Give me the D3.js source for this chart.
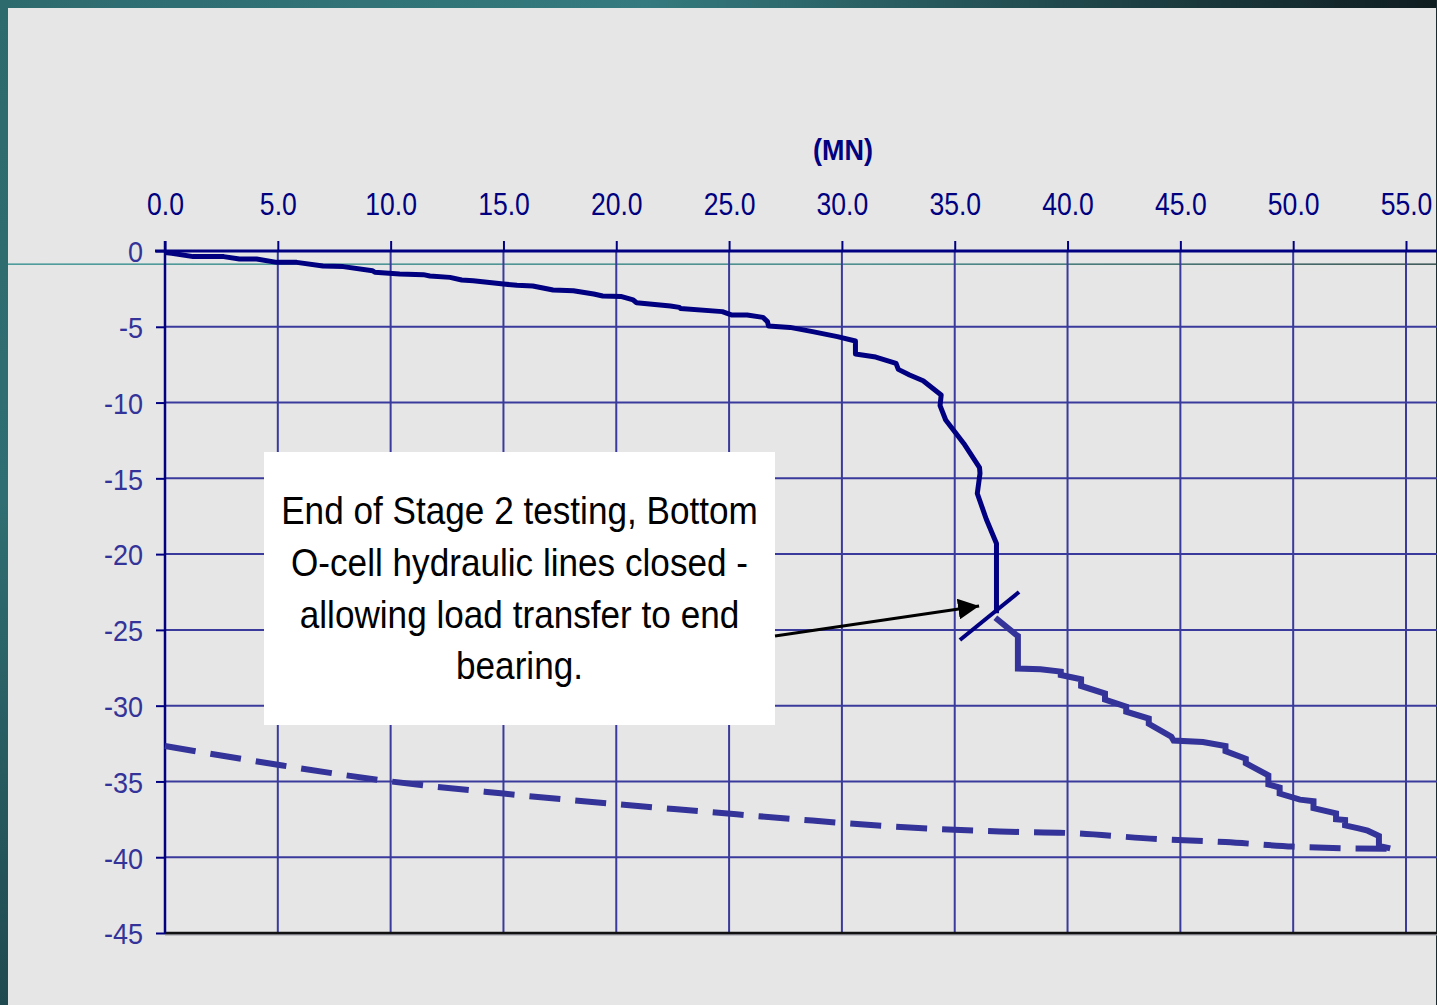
<!DOCTYPE html>
<html>
<head>
<meta charset="utf-8">
<script src="https://cdn.jsdelivr.net/npm/d3@7"></script>
<style>
  html, body { margin: 0; padding: 0; background: #e6e6e6; overflow: hidden; }
  svg { display: block; }
  .lbl { font-family: "Liberation Sans", Arial, sans-serif; }
</style>
</head>
<body>
<svg id="chart" width="1437" height="1005"></svg>
<script>
// Load (MN) vs. displacement readings, upper O-cell stage
const loadUpper = [0, 0.3, 1.25, 2.6, 3.3, 4.06, 4.95, 5.84, 7.0, 7.9, 9.2, 9.3, 10.4, 11.45, 11.74, 12.63, 13.15, 13.66,
  15.0, 15.6, 16.3, 17.2, 18.1, 19.0, 19.4, 20.2, 20.75, 20.9, 22.4, 22.8, 22.85, 24.7, 25.1, 25.8, 26.5, 26.7, 26.75,
  27.7, 28.7, 29.8, 30.6, 30.6, 31.5, 32.4, 32.5, 33.0, 33.6, 34.4, 34.35, 34.6, 35.4, 36.1, 36.12, 36.0, 36.4, 36.85, 36.85];
const dispUpper = [-0.1, -0.15, -0.37, -0.37, -0.53, -0.53, -0.75, -0.75, -0.99, -1.03, -1.3, -1.4, -1.52, -1.56, -1.65, -1.74, -1.91, -1.96,
  -2.18, -2.26, -2.31, -2.57, -2.62, -2.84, -2.97, -3.0, -3.23, -3.41, -3.63, -3.72, -3.8, -4.0, -4.22, -4.22, -4.38, -4.66, -4.95,
  -5.04, -5.32, -5.65, -5.94, -6.8, -7.0, -7.41, -7.81, -8.18, -8.56, -9.5, -10.2, -11.15, -12.7, -14.3, -14.67, -16.0, -17.7, -19.3, -23.9];

// Readings after the bottom O-cell lines were closed
const loadLower = [36.8, 37.7, 37.8, 37.8, 38.8, 39.7, 39.7, 40.6, 40.6, 41.66, 41.66, 42.6, 42.6, 43.6, 43.6, 44.6, 44.7,
  46.0, 47.0, 47.0, 47.9, 47.9, 48.9, 48.9, 49.4, 49.4, 50.3, 50.9, 50.9, 51.9, 51.9, 52.3, 52.3, 52.9, 53.3, 53.8, 53.8, 54.3];
const dispLower = [-24.2, -25.3, -25.4, -27.55, -27.6, -27.75, -27.98, -28.26, -28.7, -29.2, -29.6, -30.06, -30.4, -30.85, -31.2, -32.05, -32.3,
  -32.4, -32.66, -33.0, -33.5, -33.8, -34.6, -35.2, -35.4, -35.8, -36.2, -36.3, -36.76, -37.1, -37.5, -37.55, -37.9, -38.1, -38.25, -38.6, -39.25, -39.42];

// Reference (dashed) curve
const loadRef = [0, 5, 10, 15, 20, 24, 28, 32, 37, 40, 44, 47, 50, 54.3];
const dispRef = [-32.66, -33.9, -35.0, -35.8, -36.5, -37.0, -37.5, -37.95, -38.3, -38.4, -38.8, -39.0, -39.3, -39.45];

// Axis ticks
const xTicks = [0, 5, 10, 15, 20, 25, 30, 35, 40, 45, 50, 55];
const yTicks = [0, -5, -10, -15, -20, -25, -30, -35, -40, -45];

const axisTitle = "(MN)";
const noteLines = ["End of Stage 2 testing, Bottom", "O-cell hydraulic lines closed -", "allowing load transfer to end", "bearing."];

const W = 1437, H = 1005;
const svg = d3.select("#chart");

const x = d3.scaleLinear().domain([0, 55]).range([165, 1406]);
const y = d3.scaleLinear().domain([-45, 0]).range([933, 251]);
const xEnd = W;

// narrow-face look: horizontal squeeze applied to text
const squeezeTick = 0.83, squeezeY = 0.9, squeezeNote = 0.925, squeezeTitle = 0.93;

const defs = svg.append("defs");
const gTop = defs.append("linearGradient").attr("id", "frameTop").attr("x1", 0).attr("x2", 1).attr("y1", 0).attr("y2", 0);
gTop.append("stop").attr("offset", 0).attr("stop-color", "#2d6a6e");
gTop.append("stop").attr("offset", 0.45).attr("stop-color", "#347a7e");
gTop.append("stop").attr("offset", 1).attr("stop-color", "#0f1c20");
const gLeft = defs.append("linearGradient").attr("id", "frameLeft").attr("x1", 0).attr("x2", 0).attr("y1", 0).attr("y2", 1);
gLeft.append("stop").attr("offset", 0).attr("stop-color", "#2d6a6e");
gLeft.append("stop").attr("offset", 0.5).attr("stop-color", "#2f6e72");
gLeft.append("stop").attr("offset", 1).attr("stop-color", "#1f4a50");
const gRule = defs.append("linearGradient").attr("id", "rule").attr("x1", 0).attr("x2", 1).attr("y1", 0).attr("y2", 0);
gRule.append("stop").attr("offset", 0).attr("stop-color", "#2a8a8a");
gRule.append("stop").attr("offset", 0.6).attr("stop-color", "#2a7a7a");
gRule.append("stop").attr("offset", 1).attr("stop-color", "#1a3a3a");

// Frame
svg.append("rect").attr("width", W).attr("height", H).attr("fill", "#e6e6e6");
svg.append("rect").attr("x", 0).attr("y", 0).attr("width", W).attr("height", 8).attr("fill", "url(#frameTop)");
svg.append("rect").attr("x", 0).attr("y", 0).attr("width", 8).attr("height", H).attr("fill", "url(#frameLeft)");
svg.append("rect").attr("x", W - 1).attr("y", 0).attr("width", 1).attr("height", H).attr("fill", "#1a2a2e");
svg.append("rect").attr("x", 8).attr("y", 263.5).attr("width", W - 8).attr("height", 1.3).attr("fill", "url(#rule)");

// Grid
const grid = svg.append("g");
grid.selectAll("line.v").data(xTicks.slice(1)).join("line")
  .attr("x1", d => x(d)).attr("x2", d => x(d)).attr("y1", y(0)).attr("y2", y(-45))
  .attr("stroke", "#3a3a9c").attr("stroke-width", 2);
grid.selectAll("line.h").data(yTicks.slice(1, -1)).join("line")
  .attr("x1", x(0)).attr("x2", xEnd).attr("y1", d => y(d)).attr("y2", d => y(d))
  .attr("stroke", "#3a3a9c").attr("stroke-width", 2);

// Bottom frame of the plot
svg.append("line").attr("x1", x(0)).attr("x2", xEnd).attr("y1", y(-45) + 1.5).attr("y2", y(-45) + 1.5)
  .attr("stroke", "#9a9aa4").attr("stroke-width", 2);
svg.append("line").attr("x1", x(0)).attr("x2", xEnd).attr("y1", y(-45)).attr("y2", y(-45))
  .attr("stroke", "#111111").attr("stroke-width", 2.5);

// Top axis
const xAxis = d3.axisTop(x).tickValues(xTicks).tickFormat(d3.format(".1f")).tickSize(10).tickPadding(0);
const gx = svg.append("g").attr("transform", `translate(0,${y(0)})`).call(xAxis);
gx.select(".domain").remove();
gx.selectAll(".tick line").attr("stroke", "#000080").attr("stroke-width", 2);
gx.selectAll(".tick text").attr("class", "lbl").attr("fill", "#000080").attr("font-size", 32)
  .attr("y", -36).attr("dy", 0).attr("transform", `scale(${squeezeTick},1)`);
svg.append("line").attr("x1", x(0) - 10).attr("x2", xEnd).attr("y1", y(0)).attr("y2", y(0))
  .attr("stroke", "#000080").attr("stroke-width", 3);

// Left axis (plain hyphen for negatives)
const yAxis = d3.axisLeft(y).tickValues(yTicks).tickFormat(d => String(d)).tickSize(9).tickPadding(0);
const gy = svg.append("g").attr("transform", `translate(${x(0)},0)`).call(yAxis);
gy.select(".domain").remove();
gy.selectAll(".tick line").attr("stroke", "#000080").attr("stroke-width", 2);
gy.selectAll(".tick text").attr("class", "lbl").attr("fill", "#333399").attr("font-size", 30)
  .attr("x", -22 / squeezeY).attr("dy", "0.36em").attr("transform", `scale(${squeezeY},1)`);
svg.append("line").attr("x1", x(0)).attr("x2", x(0)).attr("y1", y(0) - 10).attr("y2", y(-45))
  .attr("stroke", "#000080").attr("stroke-width", 2.5);

// Axis title
svg.append("text").attr("class", "lbl").attr("transform", `translate(843,160) scale(${squeezeTitle},1)`)
  .attr("text-anchor", "middle")
  .attr("font-size", 29).attr("font-weight", "bold").attr("fill", "#000080").text(axisTitle);

const line = d3.line().x(d => x(d[0])).y(d => y(d[1]));

// Reference curve (dashed)
svg.append("path").datum(d3.zip(loadRef, dispRef)).attr("d", line.curve(d3.curveMonotoneX))
  .attr("fill", "none").attr("stroke", "#333399").attr("stroke-width", 6).attr("stroke-dasharray", "31,15");
line.curve(d3.curveLinear);

// Measured curve after closing lines
svg.append("path").datum(d3.zip(loadLower, dispLower)).attr("d", line)
  .attr("fill", "none").attr("stroke", "#333399").attr("stroke-width", 6).attr("stroke-linejoin", "miter");

// Measured curve before closing lines
svg.append("path").datum(d3.zip(loadUpper, dispUpper)).attr("d", line)
  .attr("fill", "none").attr("stroke", "#000080").attr("stroke-width", 5).attr("stroke-linejoin", "round");

// Cut mark at the end of stage 2
svg.append("line")
  .attr("x1", x(35.23)).attr("y1", y(-25.67)).attr("x2", x(37.85)).attr("y2", y(-22.5))
  .attr("stroke", "#000080").attr("stroke-width", 4);

// Note box
const boxX0 = 264, boxX1 = 775, boxY0 = 452, boxY1 = 725;
svg.append("rect").attr("x", boxX0).attr("y", boxY0).attr("width", boxX1 - boxX0).attr("height", boxY1 - boxY0)
  .attr("fill", "#ffffff");
svg.append("g").selectAll("text").data(noteLines).join("text")
  .attr("class", "lbl")
  .attr("transform", (d, i) => `translate(${(boxX0 + boxX1) / 2},${524 + i * 51.8}) scale(${squeezeNote},1)`)
  .attr("text-anchor", "middle").attr("font-size", 38).attr("fill", "#000000").text(d => d);

// Arrow from the note to the cut mark
defs.append("marker").attr("id", "head").attr("viewBox", "0 0 10 10").attr("refX", 10).attr("refY", 5)
  .attr("markerWidth", 7).attr("markerHeight", 7).attr("markerUnits", "strokeWidth").attr("orient", "auto")
  .append("path").attr("d", "M0,0 L10,5 L0,10 Z").attr("fill", "#000000");
svg.append("line").attr("x1", boxX1).attr("y1", 636).attr("x2", x(36.08)).attr("y2", y(-23.42))
  .attr("stroke", "#000000").attr("stroke-width", 3).attr("marker-end", "url(#head)");
</script>
</body>
</html>
